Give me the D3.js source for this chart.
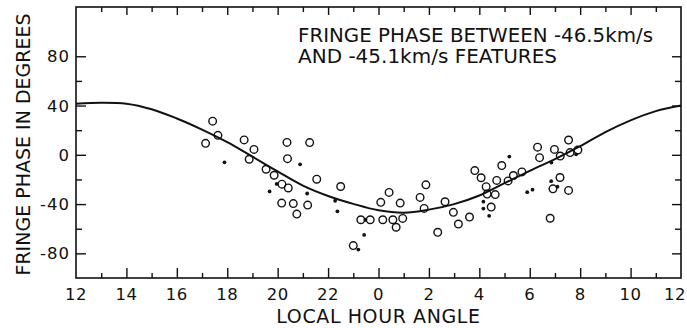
<!DOCTYPE html>
<html>
<head>
<meta charset="utf-8">
<script src="https://cdn.jsdelivr.net/npm/d3@7/dist/d3.min.js"></script>
<style>
html,body{margin:0;padding:0;background:#fff;}
svg{display:block;}
text{font-family:"DejaVu Sans",sans-serif;fill:#111;}
</style>
</head>
<body>
<svg id="chart" width="687" height="328"></svg>
<script>
// ---- data ----
const xTickHours = [12,14,16,18,20,22,24,26,28,30,32,34,36];
const xTickLabels = ["12","14","16","18","20","22","0","2","4","6","8","10","12"];
const yTickValues = [-80,-40,0,40,80];
const yTickLabels = ["-80","-40","0","40","80"];

// fitted curve, hour angle unwrapped (24 = 0h next day)
const curveHours = [12,13,14,15,16,17,18,19,20,21,22,23,24,25,26,27,28,29,30,31,32,33,34,35,36];
const curvePhase = [41.5,42.3,41.5,37,29.5,20.5,10.3,-1.5,-13.5,-25,-33.4,-39.8,-45,-47,-44.5,-40,-33,-23,-13,-3.5,7,18.5,28,35.5,40];

// open circles: local hour angle (0-24) and phase
const circleHA = [17.14,17.42,17.63,18.67,19.06,18.87,19.54,19.86,20.17,20.42,20.37,20.39,21.27,20.16,20.62,20.76,21.19,21.55,22.5,23.3,23.67,23.0,
  0.09,0.42,0.17,0.57,0.96,0.70,0.86,1.65,1.88,1.81,2.35,2.64,2.97,3.17,3.61,3.82,4.07,4.27,4.31,4.63,4.47,4.69,4.89,5.14,5.35,5.69,
  6.31,6.39,6.98,7.21,7.54,7.6,7.91,7.2,6.92,7.54,6.81];
const circlePhase = [9.3,27.3,15.8,12.1,4.4,-3.6,-11.7,-16.6,-23.8,-26.9,10.1,-3.1,9.9,-39.2,-39.6,-48.1,-40.8,-19.8,-25.7,-52.7,-52.7,-73.7,
  -38.6,-30.5,-52.7,-52.7,-51.6,-58.8,-39.2,-34.6,-24.4,-43.5,-62.9,-38.1,-46.7,-56.2,-50.5,-12.8,-18.6,-25.9,-31.9,-32.3,-42.4,-20.8,-8.7,-21.2,-16.8,-13.9,
  6.2,-2.3,4.4,-1.0,12.0,1.8,3.9,-18.4,-27.6,-28.9,-51.5];

// filled dots
const dotHA = [17.89,19.68,19.96,20.89,21.17,22.28,22.37,23.48,23.43,23.2,4.16,4.16,4.39,5.19,5.9,6.11,6.86,7.84,6.85,7.1];
const dotPhase = [-6.1,-29.7,-23.6,-7.7,-31.4,-37.3,-45.9,-52.7,-65,-76.9,-38,-43.6,-49.5,-1.4,-30.3,-28.3,-6.3,0.4,-21.4,-25.9];

const noteLines = ["FRINGE PHASE BETWEEN -46.5km/s", "AND -45.1km/s FEATURES"];

// ---- layout ----
const L = 76, R = 681, T = 7, B = 278;
const unwrap = h => (h < 12 ? h + 24 : h);
const x = d3.scaleLinear().domain([12, 36]).range([L, R]);
const y = d3.scaleLinear().domain([-100, 120]).range([B, T]);

const svg = d3.select("#chart");
const ink = "#111";

// frame
svg.append("rect").attr("x", L).attr("y", T).attr("width", R - L).attr("height", B - T)
  .attr("fill", "none").attr("stroke", ink).attr("stroke-width", 1.6);

// axes with inward ticks
const hoursAll = d3.range(13, 36);
const gB = svg.append("g").attr("transform", `translate(0,${B})`)
  .call(d3.axisBottom(x).tickValues(hoursAll).tickSizeInner(0).tickSizeOuter(0).tickFormat(""));
gB.selectAll(".tick line").attr("y2", d => (d % 2 === 0 ? -10 : -5)).attr("stroke", ink).attr("stroke-width", 1.4);
gB.select(".domain").remove();

const gT = svg.append("g").attr("transform", `translate(0,${T})`)
  .call(d3.axisTop(x).tickValues(hoursAll).tickSizeInner(0).tickSizeOuter(0).tickFormat(""));
gT.selectAll(".tick line").attr("y2", d => (d % 2 === 0 ? 8 : 5)).attr("stroke", ink).attr("stroke-width", 1.4);
gT.select(".domain").remove();

const yMinor = [-80,-60,-40,-20,0,20,40,60,80];
const gL = svg.append("g").attr("transform", `translate(${L},0)`)
  .call(d3.axisLeft(y).tickValues(yMinor).tickSizeInner(0).tickSizeOuter(0).tickFormat(""));
gL.selectAll(".tick line").attr("x2", d => (d % 40 === 0 ? 10 : 6)).attr("stroke", ink).attr("stroke-width", 1.4);
gL.select(".domain").remove();

const gR = svg.append("g").attr("transform", `translate(${R},0)`)
  .call(d3.axisRight(y).tickValues(yMinor).tickSizeInner(0).tickSizeOuter(0).tickFormat(""));
gR.selectAll(".tick line").attr("x2", d => (d % 40 === 0 ? -9 : -6)).attr("stroke", ink).attr("stroke-width", 1.4);
gR.select(".domain").remove();

// tick labels
const nX = xTickHours.length;
svg.append("g").selectAll("text").data(xTickHours).join("text")
  .attr("x", (d, i) => (i === nX - 1 ? 686 : x(d)))
  .attr("y", 300)
  .attr("text-anchor", (d, i) => (i === nX - 1 ? "end" : "middle"))
  .attr("font-size", 16.5).attr("letter-spacing", 0.5)
  .text((d, i) => xTickLabels[i]);

svg.append("g").selectAll("text").data(yTickValues).join("text")
  .attr("x", 70).attr("y", d => y(d) + 6).attr("text-anchor", "end")
  .attr("font-size", 16.5).attr("letter-spacing", 1)
  .text((d, i) => yTickLabels[i]);

// axis titles
svg.append("text").attr("x", (L + R) / 2).attr("y", 323).attr("text-anchor", "middle")
  .attr("font-size", 19).attr("letter-spacing", 0.6).text("LOCAL HOUR ANGLE");
svg.append("text").attr("transform", `translate(30,${(T + B) / 2 + 2}) rotate(-90)`)
  .attr("text-anchor", "middle").attr("font-size", 19).text("FRINGE PHASE IN DEGREES");

// annotation
svg.append("text").attr("x", 298).attr("y", 42).attr("font-size", 19)
  .attr("textLength", 355).attr("lengthAdjust", "spacingAndGlyphs").text(noteLines[0]);
svg.append("text").attr("x", 298).attr("y", 63).attr("font-size", 19)
  .attr("textLength", 259).attr("lengthAdjust", "spacingAndGlyphs").text(noteLines[1]);

// curve
const line = d3.line().x(d => x(d[0])).y(d => y(d[1])).curve(d3.curveCatmullRom.alpha(0.5));
svg.append("path").datum(curveHours.map((h, i) => [h, curvePhase[i]]))
  .attr("d", line).attr("fill", "none").attr("stroke", ink).attr("stroke-width", 2);

// open circles
svg.append("g").selectAll("circle").data(circleHA.map((h, i) => [unwrap(h), circlePhase[i]])).join("circle")
  .attr("cx", d => x(d[0])).attr("cy", d => y(d[1])).attr("r", 3.8)
  .attr("fill", "none").attr("stroke", ink).attr("stroke-width", 1.4);

// filled dots
svg.append("g").selectAll("circle").data(dotHA.map((h, i) => [unwrap(h), dotPhase[i]])).join("circle")
  .attr("cx", d => x(d[0])).attr("cy", d => y(d[1])).attr("r", 1.9).attr("fill", ink);
</script>
</body>
</html>
